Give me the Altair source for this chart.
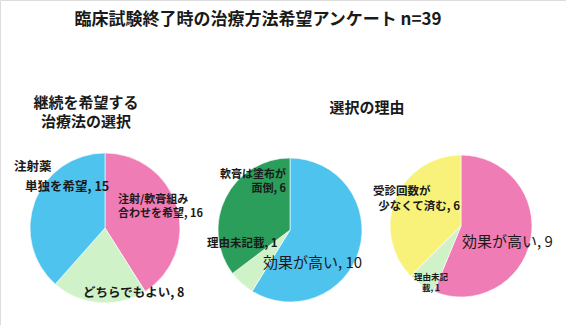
import altair as alt
import pandas as pd

FONT = "Noto Sans CJK JP"

# Pie 1: 継続を希望する治療法の選択
p1_cat = ["注射/軟膏組み合わせを希望", "どちらでもよい", "注射薬単独を希望"]
p1_val = [16, 8, 15]
p1_col = ["#F07CB5", "#D0F2C8", "#4EC3EE"]

# Pie 2: 選択の理由 (注射薬単独)
p2_cat = ["効果が高い", "理由未記載", "軟膏は塗布が面倒"]
p2_val = [10, 1, 6]
p2_col = ["#4EC3EE", "#D0F2C8", "#2A9E5A"]

# Pie 3: 選択の理由 (組み合わせ)
p3_cat = ["効果が高い", "理由未記載", "受診回数が少なくて済む"]
p3_val = [9, 1, 6]
p3_col = ["#F07CB5", "#D0F2C8", "#F8F27A"]


def pie(cats, vals, cols, cx, cy, r):
    df = pd.DataFrame({"cat": cats, "val": vals, "col": cols, "ord": list(range(len(cats)))})
    return alt.Chart(df).mark_arc(outerRadius=r, stroke="#ffffff", strokeWidth=0.6).encode(
        theta=alt.Theta("val:Q", stack=True),
        order=alt.Order("ord:Q"),
        color=alt.Color("col:N", scale=None),
        x=alt.value(cx),
        y=alt.value(cy),
    )


def txt(items, size=12, weight="bold", align="left", lh=None):
    df = pd.DataFrame(items, columns=["t", "x", "y"])
    return alt.Chart(df).mark_text(
        font=FONT, fontSize=size, fontWeight=weight, align=align, baseline="middle",
        color="#1a1a1a", lineHeight=lh if lh else size, lineBreak="\n"
    ).encode(x=alt.X("x:Q", scale=None), y=alt.Y("y:Q", scale=None), text="t:N")


title = txt([["臨床試験終了時の治療方法希望アンケート  n=39", 258, 20]], size=17, align="center")
sub1 = txt([["継続を希望する\n治療法の選択", 86, 103]], size=15, align="center", lh=19)
sub2 = txt([["選択の理由", 367, 108]], size=15, align="center")

lab1 = txt([["注射薬", 14, 167], ["単独を希望, 15", 25, 187],
            ["どちらでもよい, 8", 83, 293]], size=12.5)
lab1r = txt([["注射/軟膏組み\n合わせを希望, 16", 118, 200]], size=11, lh=14)
lab2r = txt([["軟膏は塗布が\n面倒, 6", 286, 175]], size=11, align="right", lh=14)
lab2 = txt([["理由未記載, 1", 207, 244]], size=11.5)
lab2b = txt([["効果が高い, 10", 263, 263]], size=15, weight="normal")
lab3 = txt([["受診回数が", 373, 192]], size=11.5)
lab3r = txt([["少なくて済む, 6", 460, 207]], size=11.5, align="right")
lab3b = txt([["効果が高い, 9", 462, 242]], size=15, weight="normal")
lab3s = txt([["理由未記\n載, 1", 431, 277]], size=8.5, align="center", lh=11)

chart = alt.layer(
    pie(p1_cat, p1_val, p1_col, 105, 228, 75),
    pie(p2_cat, p2_val, p2_col, 290, 230, 72),
    pie(p3_cat, p3_val, p3_col, 461, 226, 71),
    title, sub1, sub2, lab1, lab1r, lab2r, lab2, lab2b, lab3, lab3r, lab3b, lab3s,
).resolve_scale(theta="independent").properties(
    width=566, height=325, padding=0, autosize=alt.AutoSizeParams(type="none")
).configure_view(stroke=None).configure(background="#ffffff")

chart.save("out.html", embed_options={"renderer": "svg", "actions": False})
